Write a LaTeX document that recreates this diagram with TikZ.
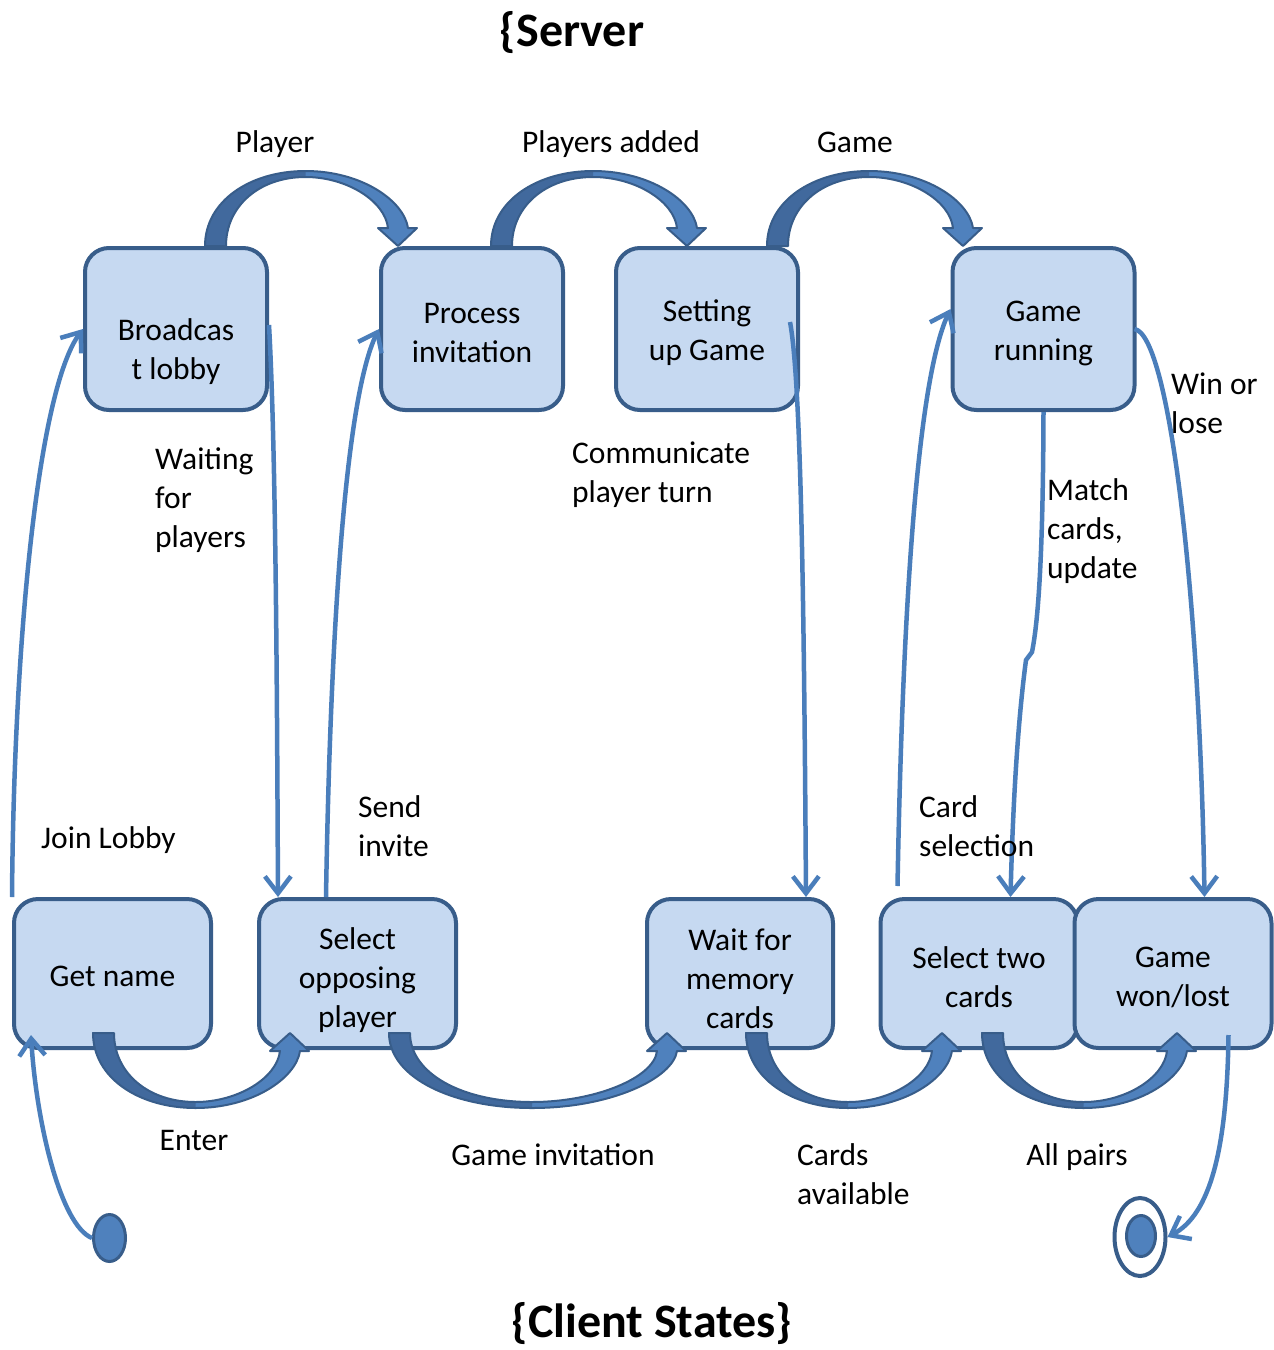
\documentclass[tikz,border=0pt]{standalone}
\usepackage{fontspec}
\setmainfont{Carlito}
\usetikzlibrary{arrows.meta,shapes.geometric}

\definecolor{boxfill}{HTML}{C6D9F1}
\definecolor{boxline}{HTML}{385D8A}
\definecolor{flow}{HTML}{4A7EBB}
\definecolor{arclight}{HTML}{4F81BD}
\definecolor{arcdark}{HTML}{41699D}

% Broad curved block arrow: #1 outer start x, #2 tip x, #3 base y,
% #4 = -1 to bend upwards, 1 to bend downwards
\newcommand{\curvedblock}[4]{%
  \pgfmathsetmacro\cbA{#1}%
  \pgfmathsetmacro\cbI{#1+21}%
  \pgfmathsetmacro\cbT{#2}%
  \pgfmathsetmacro\cbB{#3}%
  \pgfmathsetmacro\cbP{(#1+#2)/2+4}%
  \pgfmathsetmacro\cbYo{#3+(#4)*75}%
  \pgfmathsetmacro\cbYi{#3+(#4)*69}%
  \pgfmathsetmacro\cbYh{#3+(#4)*18}%
  \pgfmathsetmacro\cbYm{#3+(#4)*45}%
  \pgfmathsetmacro\cbYn{#3+(#4)*40}%
  \pgfmathsetmacro\cbOa{\cbA+0.45*(\cbP-\cbA)}%
  \pgfmathsetmacro\cbIa{\cbI+0.42*(\cbP-\cbI)}%
  \pgfmathsetmacro\cbOb{\cbP+0.55*(\cbT+10-\cbP)}%
  \pgfmathsetmacro\cbIb{\cbP+0.5*(\cbT-10-\cbP)}%
  \pgfmathsetmacro\cbTa{\cbT+10}%
  \pgfmathsetmacro\cbTb{\cbT+19}%
  \pgfmathsetmacro\cbTc{\cbT-20}%
  \pgfmathsetmacro\cbTd{\cbT-10}%
  \pgfmathsetmacro\cbTe{\cbT+6}%
  \pgfmathsetmacro\cbTf{\cbT-13}%
  \fill[arclight] (\cbA,\cbB) .. controls (\cbA,\cbYm) and (\cbOa,\cbYo) .. (\cbP,\cbYo)
    .. controls (\cbOb,\cbYo) and (\cbTe,\cbYm) .. (\cbTa,\cbYh)
    -- (\cbTb,\cbYh) -- (\cbT,\cbB) -- (\cbTc,\cbYh) -- (\cbTd,\cbYh)
    .. controls (\cbTf,\cbYm) and (\cbIb,\cbYi) .. (\cbP,\cbYi)
    .. controls (\cbIa,\cbYi) and (\cbI,\cbYn) .. (\cbI,\cbB) -- cycle;
  \fill[arcdark] (\cbA,\cbB) .. controls (\cbA,\cbYm) and (\cbOa,\cbYo) .. (\cbP,\cbYo)
    -- (\cbP,\cbYi) .. controls (\cbIa,\cbYi) and (\cbI,\cbYn) .. (\cbI,\cbB) -- cycle;
  \draw[boxline, line width=2pt, line join=round] (\cbA,\cbB) .. controls (\cbA,\cbYm) and (\cbOa,\cbYo) .. (\cbP,\cbYo)
    .. controls (\cbOb,\cbYo) and (\cbTe,\cbYm) .. (\cbTa,\cbYh)
    -- (\cbTb,\cbYh) -- (\cbT,\cbB) -- (\cbTc,\cbYh) -- (\cbTd,\cbYh)
    .. controls (\cbTf,\cbYm) and (\cbIb,\cbYi) .. (\cbP,\cbYi)
    .. controls (\cbIa,\cbYi) and (\cbI,\cbYn) .. (\cbI,\cbB) -- cycle;
}

\tikzset{
  state/.style={draw=boxline, fill=boxfill, line width=4pt, rounded corners=24pt,
    align=center, font=\fontsize{31.5}{39}\selectfont, inner sep=0pt},
  topstate/.style={state, minimum width=182pt, minimum height=162pt},
  lowstate/.style={state, minimum width=197pt, minimum height=149pt},
  statetext/.style={font=\fontsize{31.5}{39}\selectfont, inner sep=0pt, align=center},
  lbl/.style={font=\fontsize{31.5}{39}\selectfont, inner sep=0pt, align=left},
  flowline/.style={draw=flow, line width=4.5pt, -{Straight Barb[length=17pt,width=26pt]}},
  heading/.style={font=\fontsize{48}{54}\selectfont\bfseries, inner sep=0pt},
}

\begin{document}
\begin{tikzpicture}[x=1pt,y=-1pt]
\fill[white] (0,0) rectangle (1274,1350);
\useasboundingbox (0,0) rectangle (1274,1350);

% headings
\node[heading, anchor=base] (server) at (572,46) {\{Server};
\node[heading, anchor=base] (client) at (652,1337) {\{Client States\}};

% server states (frames, then their texts)
\node[topstate] (broadcast) at (176,329) {};
\node[topstate] (process) at (472,329) {};
\node[topstate] (setup) at (707,329) {};
\node[topstate] (running) at (1043.5,329) {};
\node[statetext] (broadcasttext) at (176,352) {Broadcas\\t lobby};
\node[statetext] (processtext) at (472,333) {Process\\invitation};
\node[statetext] (setuptext) at (707,333) {Setting\\up Game};
\node[statetext] (runningtext) at (1043.5,333) {Game\\running};

% client states
\node[lowstate] (getname) at (112.5,973.5) {};
\node[lowstate] (selopp) at (357.5,973.5) {};
\node[state, minimum width=186pt, minimum height=149pt] (wait) at (740,973.5) {};
\node[lowstate] (seltwo) at (979,973.5) {};
\node[lowstate] (wonlost) at (1173,973.5) {};
\node[statetext] (getnametext) at (112.5,976) {Get name};
\node[statetext] (selopptext) at (357.5,980) {Select\\opposing\\player};
\node[statetext] (waittext) at (740,979) {Wait for\\memory\\cards};
\node[statetext] (seltwotext) at (979,977) {Select two\\cards};
\node[statetext] (wonlosttext) at (1173,977) {Game\\won/lost};

% initial and final states
\node[ellipse, draw=boxline, fill=arclight, line width=3pt, minimum width=32pt,
  minimum height=47pt, inner sep=0pt] (start) at (109.5,1238) {};
\node[ellipse, draw=boxline, fill=white, line width=4pt, minimum width=51pt,
  minimum height=78pt, inner sep=0pt] (endo) at (1140,1237) {};
\node[ellipse, draw=boxline, fill=arclight, line width=3pt, minimum width=29pt,
  minimum height=41pt, inner sep=0pt] (endi) at (1141,1236) {};

% transitions between client and server
\draw[flowline] (getname.north west) .. controls (14,640) and (38,390) .. (broadcast.west);
\draw[flowline] ([yshift=4pt]broadcast.east) .. controls (276,450) and (277,700) .. ([xshift=21pt]selopp.north west);
\draw[flowline] ([xshift=69pt]selopp.north west) .. controls (330,650) and (344,400) .. (process.west);
\draw[flowline] ([xshift=-10pt,yshift=7pt]setup.east) .. controls (801,380) and (804,600) .. ([xshift=161pt]wait.north west);
\draw[flowline] ([xshift=19pt,yshift=11pt]seltwo.north west) .. controls (902,640) and (915,385) .. ([yshift=20pt]running.west);
\draw[flowline] (running.south) .. controls (1043,560) and (1038,622) .. (1032,652)
  -- (1026,660) .. controls (1018,720) and (1013,800) .. ([xshift=132pt]seltwo.north west);
\draw[flowline] ([xshift=-2pt]running.east) .. controls (1170,335) and (1200,600) .. ([xshift=132pt]wonlost.north west);
\draw[flowline] (start.west) .. controls (60,1225) and (36,1120) .. ([xshift=19pt,yshift=15pt]getname.south west);
\draw[flowline] ([xshift=-45pt,yshift=15pt]wonlost.south east) .. controls (1227,1150) and (1210,1215) .. (endo.east);

% curved block arrows
\curvedblock{205}{398}{246}{-1}
\curvedblock{491}{687}{246}{-1}
\curvedblock{767}{963}{246}{-1}
\curvedblock{93}{290}{1033}{1}
\curvedblock{389}{667}{1033}{1}
\curvedblock{746}{942}{1033}{1}
\curvedblock{982}{1177}{1033}{1}

% transition labels (base anchor = baseline of the last line)
\node[lbl, anchor=base] (lplayer) at (275,152) {Player};
\node[lbl, anchor=base] (lplayers) at (611,152) {Players added};
\node[lbl, anchor=base] (lgame) at (855,152) {Game};
\node[lbl, anchor=base west] (lwaiting) at (155,547) {Waiting\\for\\players};
\node[lbl, anchor=base west] (lcomm) at (572,502) {Communicate\\player turn};
\node[lbl, anchor=base west] (lwin) at (1171,433) {Win or\\lose};
\node[lbl, anchor=base west] (lmatch) at (1047,578) {Match\\cards,\\update};
\node[lbl, anchor=base west] (ljoin) at (41,848) {Join Lobby};
\node[lbl, anchor=base west] (lsend) at (358,856) {Send\\invite};
\node[lbl, anchor=base west] (lcard) at (919,856) {Card\\selection};
\node[lbl, anchor=base] (lenter) at (194,1150) {Enter};
\node[lbl, anchor=base] (linv) at (553,1165) {Game invitation};
\node[lbl, anchor=base west] (lavail) at (797,1204) {Cards\\available};
\node[lbl, anchor=base] (lpairs) at (1077,1165) {All pairs};
\end{tikzpicture}
\end{document}
